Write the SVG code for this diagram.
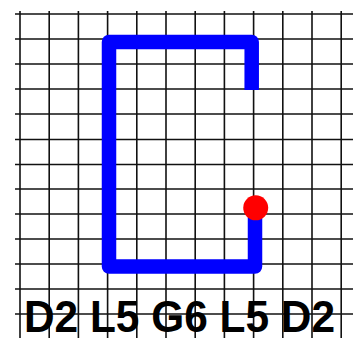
<svg xmlns="http://www.w3.org/2000/svg" width="353" height="338" viewBox="0 0 353 338">
<style>
.grid line{stroke:#111;stroke-width:1.6}
.path{fill:none;stroke:#0000ff;stroke-width:14.5;stroke-linejoin:round;stroke-linecap:butt}
.lbl{font-family:"Liberation Sans",Arial,sans-serif;font-weight:bold;font-size:44px;fill:#000}
</style>
<rect width="353" height="338" fill="#fff"/>
<g id="grid" class="grid">
<line x1="15" y1="14" x2="353" y2="14"/>
<line x1="15" y1="39" x2="353" y2="39"/>
<line x1="15" y1="64" x2="353" y2="64"/>
<line x1="15" y1="89" x2="353" y2="89"/>
<line x1="15" y1="114" x2="353" y2="114"/>
<line x1="15" y1="139.5" x2="353" y2="139.5"/>
<line x1="15" y1="164.5" x2="353" y2="164.5"/>
<line x1="15" y1="189" x2="353" y2="189"/>
<line x1="15" y1="214" x2="353" y2="214"/>
<line x1="15" y1="239" x2="353" y2="239"/>
<line x1="15" y1="264" x2="353" y2="264"/>
<line x1="15" y1="289" x2="353" y2="289"/>
<line x1="15" y1="314" x2="353" y2="314"/>
<line x1="20" y1="11" x2="20" y2="338"/>
<line x1="49.2" y1="11" x2="49.2" y2="338"/>
<line x1="78.4" y1="11" x2="78.4" y2="338"/>
<line x1="107.6" y1="11" x2="107.6" y2="338"/>
<line x1="136.8" y1="11" x2="136.8" y2="338"/>
<line x1="166" y1="11" x2="166" y2="338"/>
<line x1="195.2" y1="11" x2="195.2" y2="338"/>
<line x1="224.4" y1="11" x2="224.4" y2="338"/>
<line x1="253.6" y1="11" x2="253.6" y2="338"/>
<line x1="282.8" y1="11" x2="282.8" y2="338"/>
<line x1="312" y1="11" x2="312" y2="338"/>
<line x1="341.2" y1="11" x2="341.2" y2="338"/>
</g>
<g id="connectors">
<polyline class="path" points="251.7,90 251.7,42 109,42 109,266.5 255,266.5 255,208"/>
</g>
<g id="end-dot">
<circle cx="255.7" cy="207.8" r="12.5" fill="#ff0000"/>
</g>
<g id="label">
<text class="lbl" x="179.5" y="332" text-anchor="middle" textLength="311" lengthAdjust="spacingAndGlyphs">D2 L5 G6 L5 D2</text>
</g>
</svg>
